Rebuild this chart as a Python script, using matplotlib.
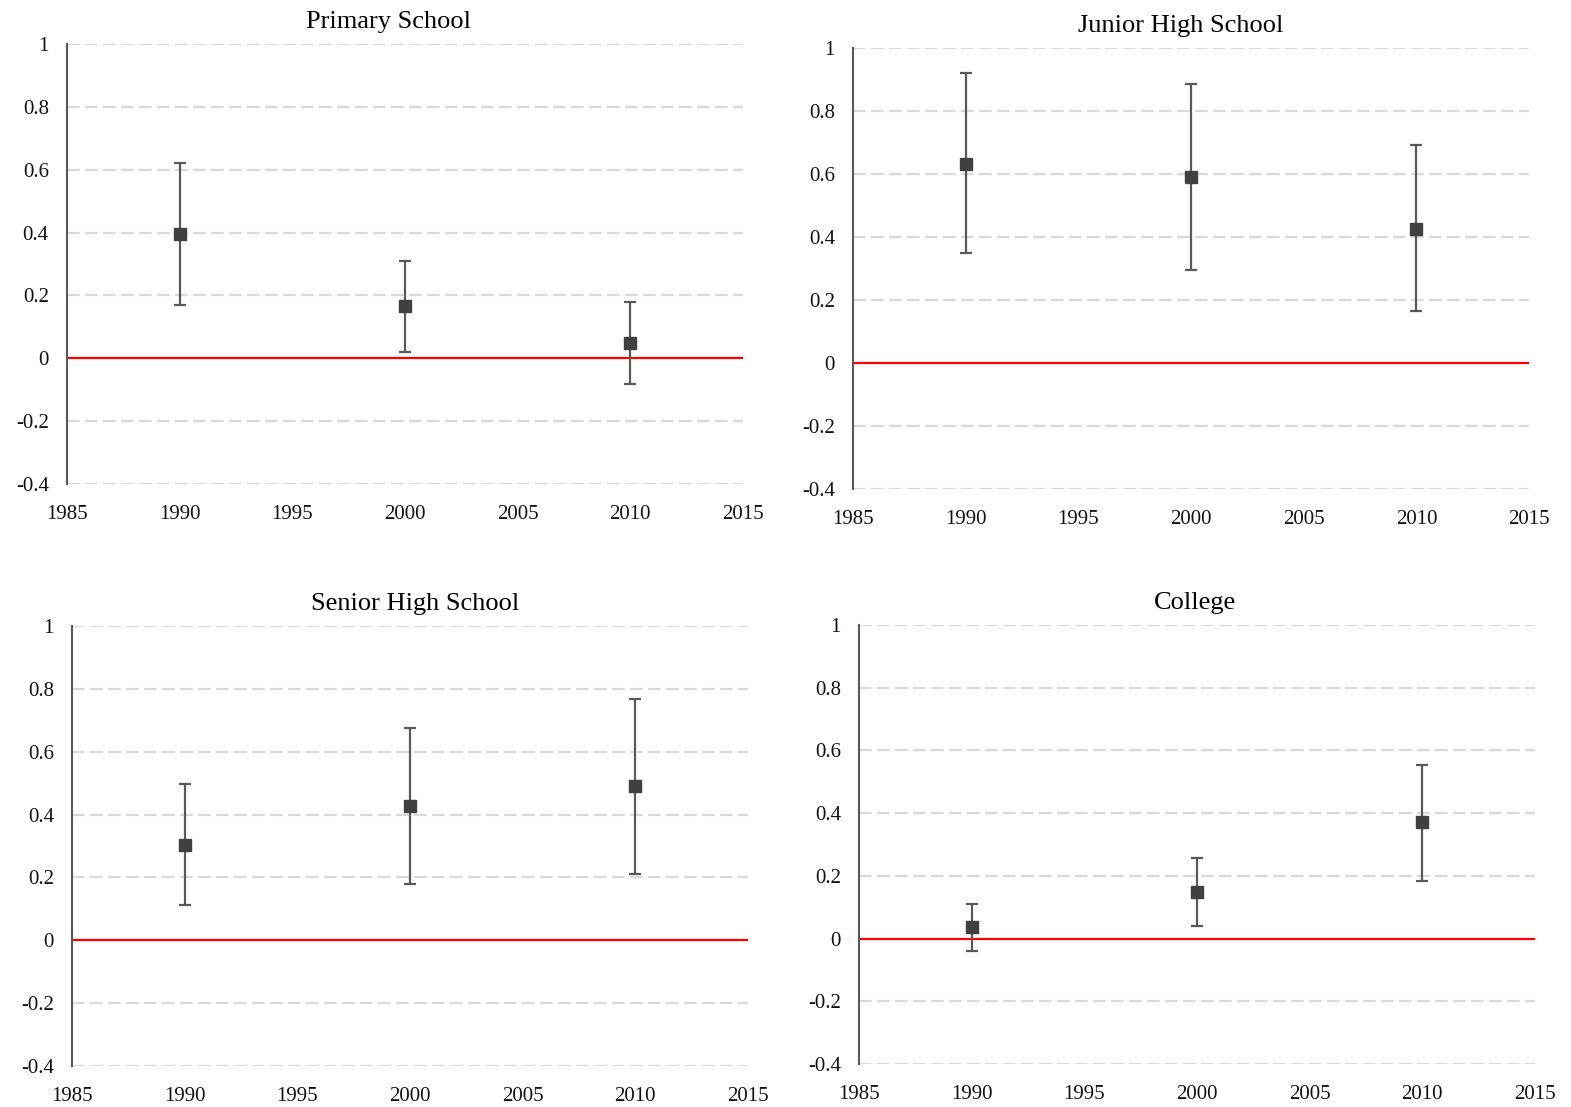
import matplotlib
matplotlib.use("Agg")
import matplotlib.pyplot as plt
from matplotlib.ticker import FuncFormatter

plt.rcParams['font.family'] = ['Liberation Serif', 'DejaVu Serif']
plt.rcParams['axes.unicode_minus'] = False

years = [1990, 2000, 2010]

titles = ["Primary School", "Junior High School", "Senior High School", "College"]

primary_est = [0.395, 0.165, 0.048]
primary_low = [0.17, 0.02, -0.083]
primary_high = [0.62, 0.31, 0.18]

junior_est = [0.632, 0.59, 0.425]
junior_low = [0.35, 0.295, 0.165]
junior_high = [0.92, 0.886, 0.692]

senior_est = [0.303, 0.427, 0.49]
senior_low = [0.111, 0.178, 0.21]
senior_high = [0.497, 0.675, 0.768]

college_est = [0.038, 0.15, 0.373]
college_low = [-0.038, 0.041, 0.185]
college_high = [0.111, 0.258, 0.554]

series = [
    (primary_est, primary_low, primary_high),
    (junior_est, junior_low, junior_high),
    (senior_est, senior_low, senior_high),
    (college_est, college_low, college_high),
]

yticks = [-0.4, -0.2, 0, 0.2, 0.4, 0.6, 0.8, 1]
xticks = [1985, 1990, 1995, 2000, 2005, 2010, 2015]

boxes = [
    [0.0426, 0.5628, 0.4303, 0.3975],
    [0.5430, 0.5583, 0.4303, 0.3984],
    [0.0458, 0.0370, 0.4303, 0.3975],
    [0.5468, 0.0388, 0.4303, 0.3966],
]
title_x = [0.476, 0.485, 0.507, 0.497]

fig = plt.figure(figsize=(15.71, 11.07), dpi=100)

for box, tx, title, (est, low, high) in zip(boxes, title_x, titles, series):
    ax = fig.add_axes(box)
    err_lo = [e - l for e, l in zip(est, low)]
    err_hi = [h - e for e, h in zip(est, high)]
    for y in yticks:
        if y == 0:
            continue
        ax.axhline(y, color='#d9d9d9', lw=1.6, ls=(0, (5.7, 2.4)), zorder=0)
    ax.axhline(0, color='#ff0000', lw=1.6, zorder=1)
    ax.errorbar(years, est, yerr=[err_lo, err_hi], fmt='s', color='#404040',
                ms=9, ecolor='#595959', elinewidth=1.6, capsize=4,
                capthick=1.6, zorder=3)
    ax.set_xlim(1985, 2015)
    ax.set_ylim(-0.4, 1)
    ax.set_xticks(xticks)
    ax.set_yticks(yticks)
    ax.yaxis.set_major_formatter(FuncFormatter(lambda v, p: f"{v:g}"))
    for s in ['top', 'right', 'bottom']:
        ax.spines[s].set_visible(False)
    ax.spines['left'].set_color('#595959')
    ax.spines['left'].set_linewidth(1.5)
    ax.tick_params(axis='both', length=0, labelsize=15, colors='#111111')
    ax.tick_params(axis='y', pad=13)
    ax.tick_params(axis='x', pad=15)
    ax.set_title(title, fontsize=19, pad=11.5, x=tx)

fig.savefig("out.png", dpi=100)
